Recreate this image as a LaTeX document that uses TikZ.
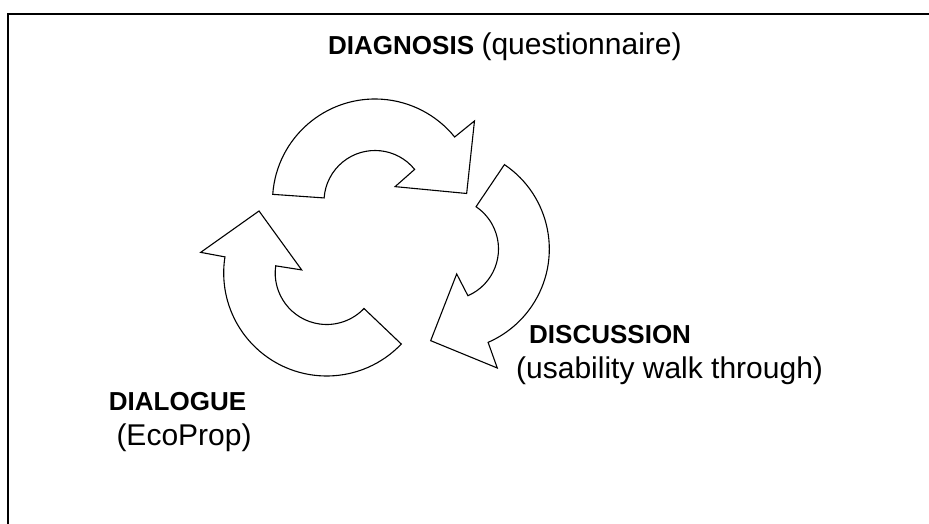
\documentclass[tikz,border=0pt]{standalone}
\usepackage{fontspec}
\setmainfont{Liberation Sans}
\usetikzlibrary{positioning}

\begin{document}
\begin{tikzpicture}[x=1pt,y=1pt,
  cyc/.style={draw=black,line width=1.1pt,fill=white,line join=miter},
  head/.style={font=\fontsize{26}{30}\selectfont\bfseries,inner sep=0pt,anchor=base west},
  sub/.style={font=\fontsize{30}{36}\selectfont,inner sep=0pt,anchor=base west}]
\useasboundingbox (0,0) rectangle (929,523);
\clip (0,0) rectangle (929,523);
% frame: only its top and left edges fall on the page
\draw[line width=1.5pt] (8,509) rectangle (960,-20);

% DIAGNOSIS arrow, centre at (375,321.5)
\begin{scope}[shift={(375,321.5)}]
\draw[cyc] (176:102.5) arc[start angle=176,end angle=39,radius=102.5]
  -- (39:128) -- (5:92) -- (36.5:25) -- (39:51)
  arc[start angle=39,end angle=176,radius=51] -- cycle;
\end{scope}

% DISCUSSION arrow, centre at (447.5,274)
\begin{scope}[shift={(447.5,274)}]
\draw[cyc] (56:101.8) arc[start angle=56,end angle=-66.5,radius=101.8]
  -- (-67.3:129) -- (-100.4:93.2) -- (-69.8:26.6) -- (-66.4:51)
  arc[start angle=-66.4,end angle=56,radius=51] -- cycle;
\end{scope}

% DIALOGUE arrow, centre at (326.7,250)
\begin{scope}[shift={(326.7,250)}]
\draw[cyc] (-43.6:103) arc[start angle=-43.6,end angle=-189,radius=103]
  -- (170.7:127.7) -- (137.5:91.8) -- (173:25.2) -- (172:51.5)
  arc[start angle=-188,end angle=-43.6,radius=51.5] -- cycle;
\end{scope}

% labels
\node[head] (diag) at (328,468.7) {DIAGNOSIS};
\node[sub] (diagSub) at ([xshift=7pt]diag.base east) {(questionnaire)};
\node[head] (disc) at (529,179.7) {DISCUSSION};
\node[sub] (discSub) at (516,144.4) {(usability walk through)};
\node[head] (dial) at (108.7,112.3) {DIALOGUE};
\node[sub] (dialSub) at (116.3,77.7) {(EcoProp)};
\end{tikzpicture}
\end{document}
